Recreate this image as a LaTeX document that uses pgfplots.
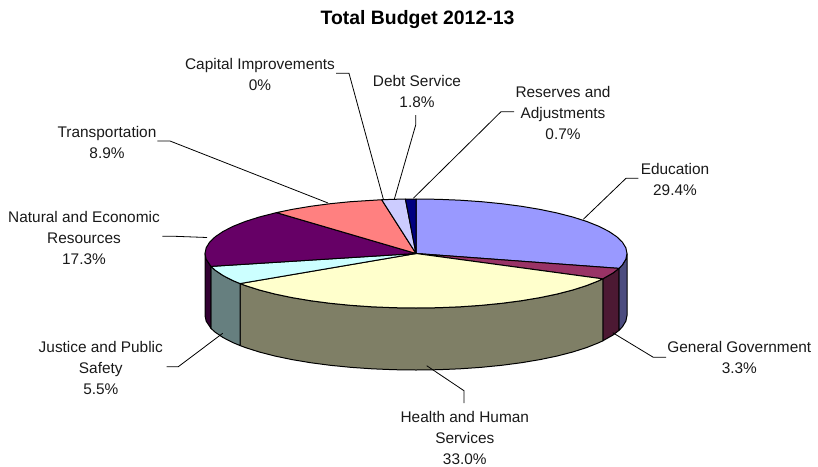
\documentclass[border=0pt]{standalone}
\usepackage{pgfplots}
\pgfplotsset{compat=1.18}
\usepackage{fontspec}
\setmainfont{Liberation Sans}

% slice colours: top face and shaded rim
\definecolor{eduT}{HTML}{9999FF}\definecolor{eduS}{HTML}{4C4C7F}
\definecolor{govT}{HTML}{993366}\definecolor{govS}{HTML}{4C1933}
\definecolor{hhsT}{HTML}{FFFFCC}\definecolor{hhsS}{HTML}{7F7F66}
\definecolor{jpsT}{HTML}{CCFFFF}\definecolor{jpsS}{HTML}{667F7F}
\definecolor{nerT}{HTML}{660066}\definecolor{nerS}{HTML}{330033}
\definecolor{traT}{HTML}{FF8080}
\definecolor{debT}{HTML}{CCCCFF}
\definecolor{resT}{HTML}{000080}

% One outline of the disc: a = degrees clockwise from 12 o'clock (360 x cumulative share),
% r = fraction of the radius, d = 1 on the lower edge of the rim.
\newcommand\slice[2]{%
  \addplot[draw=black, line width=1pt, line join=round, fill=#1]
    table[row sep=\\,
          x expr={416+211*\thisrow{r}*sin(\thisrow{a})},
          y expr={253.5-54.5*\thisrow{r}*cos(\thisrow{a})+62*\thisrow{d}}]
    {a r d\\ #2\\};}
\newcommand\leader[1]{\addplot[draw=black, line width=0.8pt] coordinates {#1};}
\newcommand\lab[3]{\node[inner sep=0pt, align=center, font=\fontsize{15.4}{21}\selectfont, text=black!90]
    at (axis cs:#1,#2) {#3};}

\begin{document}
\begin{tikzpicture}
\useasboundingbox (0,0) rectangle (818pt,466pt);
\begin{axis}[
  at={(0,0)}, anchor=south west,
  width=818pt, height=466pt, scale only axis,
  xmin=0, xmax=818, ymin=0, ymax=466, y dir=reverse,
  hide axis, clip=false]

% rim, visible between 90 and 270 degrees
\slice{eduS}{90 1 0\\ 96 1 0\\ 102 1 0\\ 105.84 1 0\\ 105.84 1 1\\ 102 1 1\\ 96 1 1\\ 90 1 1\\ 90 1 0}
\slice{govS}{105.84 1 0\\ 111 1 0\\ 117.72 1 0\\ 117.72 1 1\\ 111 1 1\\ 105.84 1 1\\ 105.84 1 0}
\slice{hhsS}{117.72 1 0\\ 120 1 0\\ 126 1 0\\ 132 1 0\\ 138 1 0\\ 144 1 0\\ 150 1 0\\ 156 1 0\\ 162 1 0\\ 168 1 0\\ 174 1 0\\ 180 1 0\\ 186 1 0\\ 192 1 0\\ 198 1 0\\ 204 1 0\\ 210 1 0\\ 216 1 0\\ 222 1 0\\ 228 1 0\\ 234 1 0\\ 236.52 1 0\\
  236.52 1 1\\ 234 1 1\\ 228 1 1\\ 222 1 1\\ 216 1 1\\ 210 1 1\\ 204 1 1\\ 198 1 1\\ 192 1 1\\ 186 1 1\\ 180 1 1\\ 174 1 1\\ 168 1 1\\ 162 1 1\\ 156 1 1\\ 150 1 1\\ 144 1 1\\ 138 1 1\\ 132 1 1\\ 126 1 1\\ 120 1 1\\ 117.72 1 1\\ 117.72 1 0}
\slice{jpsS}{236.52 1 0\\ 240 1 0\\ 246 1 0\\ 252 1 0\\ 256.32 1 0\\ 256.32 1 1\\ 252 1 1\\ 246 1 1\\ 240 1 1\\ 236.52 1 1\\ 236.52 1 0}
\slice{nerS}{256.32 1 0\\ 264 1 0\\ 270 1 0\\ 270 1 1\\ 264 1 1\\ 256.32 1 1\\ 256.32 1 0}

% top faces
\slice{eduT}{0 0 0\\ 0 1 0\\ 6 1 0\\ 12 1 0\\ 18 1 0\\ 24 1 0\\ 30 1 0\\ 36 1 0\\ 42 1 0\\ 48 1 0\\ 54 1 0\\ 60 1 0\\ 66 1 0\\ 72 1 0\\ 78 1 0\\ 84 1 0\\ 90 1 0\\ 96 1 0\\ 102 1 0\\ 105.84 1 0\\ 0 0 0}
\slice{govT}{0 0 0\\ 105.84 1 0\\ 111 1 0\\ 117.72 1 0\\ 0 0 0}
\slice{hhsT}{0 0 0\\ 117.72 1 0\\ 120 1 0\\ 126 1 0\\ 132 1 0\\ 138 1 0\\ 144 1 0\\ 150 1 0\\ 156 1 0\\ 162 1 0\\ 168 1 0\\ 174 1 0\\ 180 1 0\\ 186 1 0\\ 192 1 0\\ 198 1 0\\ 204 1 0\\ 210 1 0\\ 216 1 0\\ 222 1 0\\ 228 1 0\\ 234 1 0\\ 236.52 1 0\\ 0 0 0}
\slice{jpsT}{0 0 0\\ 236.52 1 0\\ 240 1 0\\ 246 1 0\\ 252 1 0\\ 256.32 1 0\\ 0 0 0}
\slice{nerT}{0 0 0\\ 256.32 1 0\\ 264 1 0\\ 270 1 0\\ 276 1 0\\ 282 1 0\\ 288 1 0\\ 294 1 0\\ 300 1 0\\ 306 1 0\\ 312 1 0\\ 318.6 1 0\\ 0 0 0}
\slice{traT}{0 0 0\\ 318.6 1 0\\ 324 1 0\\ 330 1 0\\ 336 1 0\\ 342 1 0\\ 350.64 1 0\\ 0 0 0}
\slice{debT}{0 0 0\\ 350.64 1 0\\ 354 1 0\\ 357.12 1 0\\ 0 0 0}
\slice{resT}{0 0 0\\ 357.12 1 0\\ 360 1 0\\ 0 0 0}

% leader lines
\leader{(336,73.3) (349,73.3) (383.3,199)}
\leader{(157.3,141) (170,141) (328,203)}
\leader{(415.7,115) (415.7,125) (394.3,199.3)}
\leader{(514,111.7) (501,111.7) (413.3,198.3)}
\leader{(638.3,178.3) (626,178.3) (583.3,219.3)}
\leader{(612.7,332.7) (653.3,357.3) (666,357.3)}
\leader{(426.7,365.7) (464,390.7) (464,403)}
\leader{(222.7,333.3) (178.3,366.7) (166.7,366.7)}
\leader{(162.3,236.3) (175,236.3) (207,237.5)}

% title and labels
\node[inner sep=0pt, font=\fontsize{19.4}{22}\selectfont\bfseries] at (axis cs:417.5,20) {Total Budget 2012-13};
\lab{260}{74}{Capital Improvements\\0\%}
\lab{417}{91.5}{Debt Service\\1.8\%}
\lab{563}{113}{Reserves and\\Adjustments\\0.7\%}
\lab{675}{179}{Education\\29.4\%}
\lab{739.3}{357.8}{General Government\\3.3\%}
\lab{464.8}{437.5}{Health and Human\\Services\\33.0\%}
\lab{100.8}{368.3}{Justice and Public\\Safety\\5.5\%}
\lab{84}{237.6}{Natural and Economic\\Resources\\17.3\%}
\lab{107}{142.5}{Transportation\\8.9\%}
\end{axis}
\end{tikzpicture}
\end{document}
